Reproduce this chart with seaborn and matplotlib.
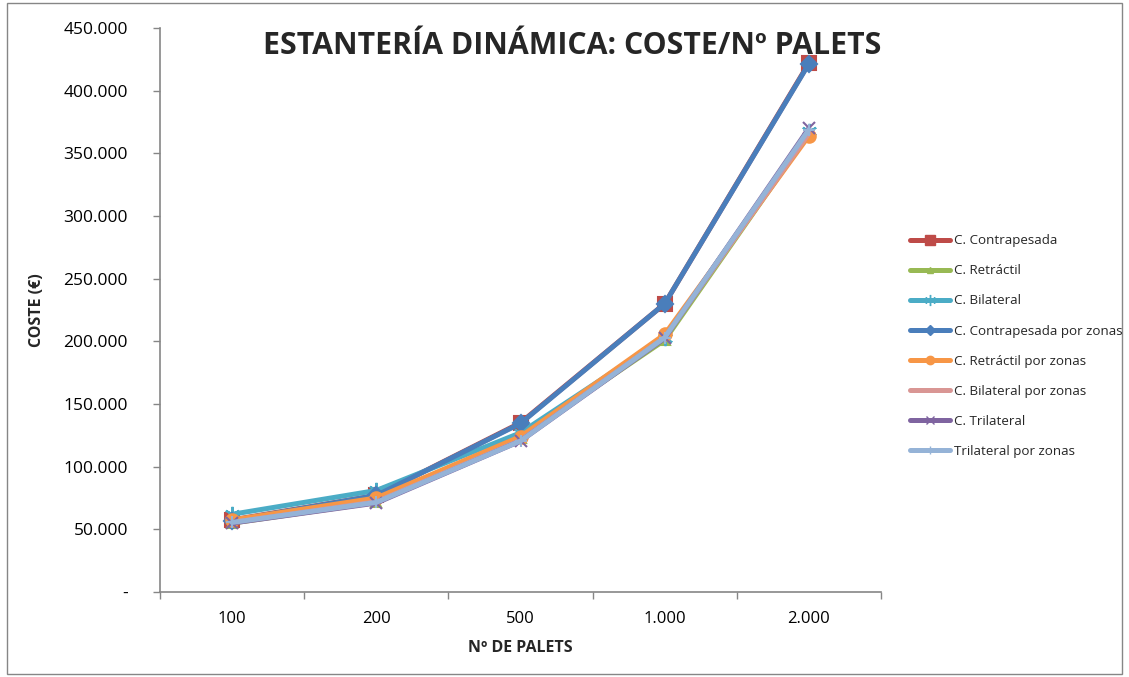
import matplotlib
matplotlib.use("Agg")
import matplotlib.pyplot as plt
import seaborn as sns
import pandas as pd
from matplotlib.ticker import FixedLocator, FuncFormatter
from matplotlib.lines import Line2D
from matplotlib.patches import Rectangle

categories = ["100", "200", "500", "1.000", "2.000"]
series_names = ["C. Contrapesada", "C. Retráctil", "C. Bilateral",
                "C. Contrapesada por zonas", "C. Retráctil por zonas",
                "C. Bilateral por zonas", "C. Trilateral", "Trilateral por zonas"]
contrapesada = [57500, 77000, 135000, 230000, 422000]
retractil = [55000, 71500, 123000, 201000, 366000]
bilateral = [62000, 81000, 127000, 203000, 368000]
contrapesada_zonas = [57000, 77000, 134500, 230000, 421500]
retractil_zonas = [57500, 75000, 124000, 205500, 364000]
bilateral_zonas = [55500, 72000, 121000, 203000, 366000]
trilateral = [55000, 71000, 120500, 202500, 370000]
trilateral_zonas = [55500, 71500, 120500, 203000, 369000]
all_values = [contrapesada, retractil, bilateral, contrapesada_zonas,
              retractil_zonas, bilateral_zonas, trilateral, trilateral_zonas]

colors = ["#BE4B48", "#98B954", "#4BACC6", "#4A7EBB", "#F79646", "#D99694", "#7F64A0", "#95B3D7"]
markers = ["s", "^", (6, 2, 0), "D", "o", "_", "x", "+"]
msizes = [10, 7, 11, 8, 9, 1, 9, 9]

rows = []
for name, vals in zip(series_names, all_values):
    for c, v in zip(categories, vals):
        rows.append({"Serie": name, "Palets": c, "Coste": v})
df = pd.DataFrame(rows)

sns.set_theme(style="white")
plt.rcParams["font.family"] = ["Open Sans", "DejaVu Sans"]

fig = plt.figure(figsize=(11.29, 6.77), dpi=100)
ax = fig.add_axes([160/1129, 1-592/677, (881-160)/1129, (592-28)/677])

for i, name in enumerate(series_names):
    sub = df[df["Serie"] == name]
    sns.lineplot(data=sub, x="Palets", y="Coste", ax=ax, color=colors[i],
                 linewidth=3.6, marker=markers[i], markersize=msizes[i],
                 markeredgecolor=colors[i], markeredgewidth=1.5, sort=False,
                 legend=False, zorder=3 + i)

ax.set_xlim(-0.5, len(categories) - 0.5)
ax.set_ylim(0, 450000)
ax.yaxis.set_major_locator(FixedLocator(range(0, 450001, 50000)))
ax.yaxis.set_major_formatter(FuncFormatter(lambda v, p: "-" if v == 0 else f"{int(v):,}".replace(",", ".")))
ax.set_xticks(range(len(categories)))
ax.set_xticklabels(categories)
ax.set_xticks([i - 0.5 for i in range(len(categories) + 1)], minor=True)
ax.tick_params(axis="x", which="major", length=0, labelsize=12, pad=14, colors="#000000")
ax.tick_params(axis="x", which="minor", length=5, width=1, color="#868686", direction="out", bottom=True)
ax.tick_params(axis="y", which="major", length=5, width=1, color="#868686", direction="out", left=True,
               labelsize=12.5, pad=18)
for lab in ax.get_yticklabels():
    lab.set_color("#000000")

for s in ["top", "right"]:
    ax.spines[s].set_visible(False)
for s in ["left", "bottom"]:
    ax.spines[s].set_color("#868686")
    ax.spines[s].set_linewidth(1.2)

ax.set_xlabel("Nº DE PALETS", fontsize=11.5, fontweight="bold", labelpad=9)
ax.set_ylabel("COSTE (€)", fontsize=11.5, fontweight="bold")
ax.yaxis.set_label_coords((45 - 160) / 721, 0.5)

fig.text(572/1129, 1-46/677, "ESTANTERÍA DINÁMICA: COSTE/Nº PALETS", ha="center", va="center",
         fontsize=21.8, fontweight="bold")

handles = [Line2D([0], [0], color=colors[i], linewidth=3.6, marker=markers[i],
                  markersize=max(msizes[i] - 3, 1), markeredgecolor=colors[i])
           for i in range(len(series_names))]
fig.legend(handles, series_names, loc="upper left", bbox_to_anchor=(905/1129, 1-229/677),
           frameon=False, fontsize=9.6, handlelength=3.0, labelspacing=1.28, handletextpad=0.3,
           borderaxespad=0)

fig.patches.append(Rectangle((7/1129, 3/677), 1-14/1129, 1-6/677, transform=fig.transFigure,
                             fill=False, edgecolor="#868686", linewidth=1))

fig.savefig("out.png", dpi=100)
